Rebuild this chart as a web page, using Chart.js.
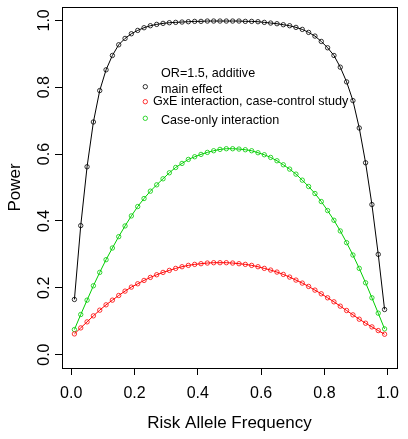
<!DOCTYPE html>
<html>
<head>
<meta charset="utf-8">
<script src="https://cdn.jsdelivr.net/npm/chart.js@4"></script>
<style>
  html, body { margin: 0; padding: 0; background: #fff; }
  canvas { display: block; }
</style>
</head>
<body>
<canvas id="chart" width="408" height="439"></canvas>
<script>
// risk allele frequencies (x)
const freq = [0.01, 0.03, 0.05, 0.07, 0.09, 0.11, 0.13, 0.15, 0.17, 0.19,
  0.21, 0.23, 0.25, 0.27, 0.29, 0.31, 0.33, 0.35, 0.37, 0.39,
  0.41, 0.43, 0.45, 0.47, 0.49, 0.51, 0.53, 0.55, 0.57, 0.59,
  0.61, 0.63, 0.65, 0.67, 0.69, 0.71, 0.73, 0.75, 0.77, 0.79,
  0.81, 0.83, 0.85, 0.87, 0.89, 0.91, 0.93, 0.95, 0.97, 0.99];

// OR=1.5, additive main effect
const mainEffect = [0.165, 0.386, 0.562, 0.696, 0.790, 0.852, 0.895, 0.927, 0.946, 0.960,
  0.970, 0.978, 0.984, 0.988, 0.991, 0.993, 0.994, 0.995, 0.996, 0.997,
  0.997, 0.998, 0.998, 0.998, 0.998, 0.998, 0.998, 0.997, 0.997, 0.996,
  0.994, 0.992, 0.990, 0.987, 0.984, 0.979, 0.973, 0.964, 0.953, 0.937,
  0.918, 0.895, 0.860, 0.816, 0.760, 0.678, 0.574, 0.449, 0.300, 0.135];

// GxE interaction, case-control study
const gxeCaseControl = [0.062, 0.080, 0.098, 0.116, 0.133, 0.149, 0.163, 0.177, 0.190, 0.202,
  0.212, 0.222, 0.231, 0.239, 0.246, 0.252, 0.258, 0.263, 0.267, 0.270,
  0.272, 0.274, 0.275, 0.275, 0.275, 0.274, 0.272, 0.270, 0.267, 0.263,
  0.258, 0.253, 0.247, 0.240, 0.232, 0.223, 0.214, 0.204, 0.193, 0.182,
  0.170, 0.158, 0.145, 0.132, 0.119, 0.106, 0.094, 0.083, 0.072, 0.061];

// Case-only interaction
const caseOnly = [0.075, 0.120, 0.163, 0.206, 0.246, 0.284, 0.319, 0.353, 0.385, 0.415,
  0.443, 0.467, 0.489, 0.508, 0.526, 0.544, 0.560, 0.572, 0.584, 0.592,
  0.599, 0.605, 0.610, 0.614, 0.616, 0.616, 0.615, 0.613, 0.610, 0.604,
  0.598, 0.590, 0.580, 0.568, 0.555, 0.540, 0.522, 0.503, 0.482, 0.458,
  0.431, 0.402, 0.370, 0.335, 0.298, 0.258, 0.215, 0.170, 0.124, 0.077];

const xTicks = [0, 0.2, 0.4, 0.6, 0.8, 1.0];
const yTicks = [0, 0.2, 0.4, 0.6, 0.8, 1.0];

const FONT = "'Liberation Sans', Arial, sans-serif";

const pts = arr => freq.map((x, i) => ({ x, y: arr[i] }));

function series(label, arr, color) {
  return {
    label,
    data: pts(arr),
    borderColor: color,
    borderWidth: 1,
    pointRadius: 2.2,
    pointBorderWidth: 0.8,
    pointBorderColor: color,
    pointBackgroundColor: 'rgba(0,0,0,0)',
    tension: 0
  };
}

// box, rotated y tick labels, legend
const extras = {
  id: 'extras',
  afterDraw(chart) {
    const { ctx, chartArea: a } = chart;
    const y = chart.scales.y;
    ctx.save();
    ctx.strokeStyle = '#000';
    ctx.lineWidth = 1;
    ctx.strokeRect(Math.round(a.left) + 0.5, Math.round(a.top) + 0.5,
      Math.round(a.right - a.left), Math.round(a.bottom - a.top));

    ctx.fillStyle = '#000';
    ctx.font = `16px ${FONT}`;
    ctx.textAlign = 'center';
    ctx.textBaseline = 'alphabetic';
    yTicks.forEach(v => {
      ctx.save();
      ctx.translate(48.5, y.getPixelForValue(v));
      ctx.rotate(-Math.PI / 2);
      ctx.fillText(v.toFixed(1), 0, 0);
      ctx.restore();
    });

    // legend
    const legend = [
      { sym: 86.7, color: '#000', lines: [['OR=1.5, additive', 161, 73.5], ['main effect', 161, 89.5]] },
      { sym: 101.7, color: '#ff0000', lines: [['GxE interaction, case-control study', 153, 102]] },
      { sym: 118.3, color: '#00cd00', lines: [['Case-only interaction', 161, 120.5]] }
    ];
    ctx.font = `12.6px ${FONT}`;
    ctx.textAlign = 'left';
    ctx.textBaseline = 'middle';
    legend.forEach(item => {
      ctx.beginPath();
      ctx.strokeStyle = item.color;
      ctx.lineWidth = 0.8;
      ctx.arc(145.3, item.sym, 2.2, 0, Math.PI * 2);
      ctx.stroke();
      ctx.fillStyle = '#000';
      item.lines.forEach(([t, x, yy]) => ctx.fillText(t, x, yy));
    });
    ctx.restore();
  }
};

new Chart(document.getElementById('chart'), {
  type: 'line',
  data: {
    datasets: [
      series('OR=1.5, additive main effect', mainEffect, '#000000'),
      series('GxE interaction, case-control study', gxeCaseControl, '#ff0000'),
      series('Case-only interaction', caseOnly, '#00cd00')
    ]
  },
  options: {
    responsive: false,
    animation: false,
    devicePixelRatio: 1,
    layout: { padding: { top: 7, right: 5, left: 0, bottom: 0 } },
    plugins: { legend: { display: false }, tooltip: { enabled: false } },
    scales: {
      x: {
        type: 'linear',
        min: -0.0292,
        max: 1.0292,
        afterBuildTicks: s => { s.ticks = xTicks.map(v => ({ value: v })); },
        afterFit: s => { s.height = 71; },
        ticks: {
          color: '#000',
          font: { family: FONT, size: 16 },
          padding: 9,
          maxRotation: 0,
          autoSkip: false,
          callback: v => v.toFixed(1)
        },
        grid: { drawOnChartArea: false, drawTicks: true, tickLength: 7, color: '#000' },
        border: { display: false },
        title: {
          display: true,
          text: 'Risk Allele Frequency',
          color: '#000',
          font: { family: FONT, size: 17 },
          padding: { top: 0, bottom: 5 }
        }
      },
      y: {
        type: 'linear',
        min: -0.04,
        max: 1.04,
        afterBuildTicks: s => { s.ticks = yTicks.map(v => ({ value: v })); },
        afterFit: s => { s.width = 62; },
        ticks: { display: false },
        grid: { drawOnChartArea: false, drawTicks: true, tickLength: 7, color: '#000' },
        border: { display: false },
        title: {
          display: true,
          text: 'Power',
          color: '#000',
          font: { family: FONT, size: 17 },
          padding: { top: 5, bottom: 0 }
        }
      }
    }
  },
  plugins: [extras]
});
</script>
</body>
</html>
